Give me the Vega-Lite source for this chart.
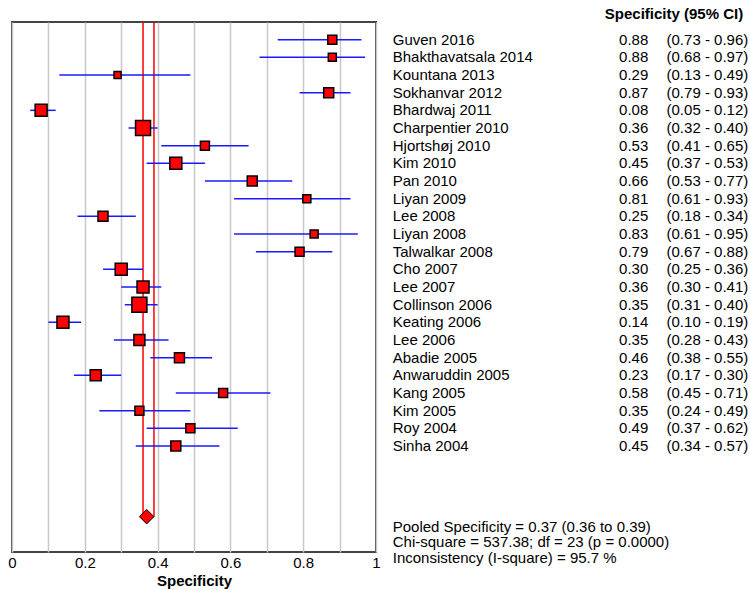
{
  "$schema": "https://vega.github.io/schema/vega-lite/v6.json",
  "padding": {"left": 6, "top": 7, "right": 0, "bottom": 0},
  "bounds": "flush",
  "spacing": 0,
  "config": {
    "font": "Liberation Sans",
    "view": {"stroke": null},
    "axisX": {
      "grid": true, "gridColor": "#c8c8c8", "gridWidth": 1.5,
      "ticks": false, "domain": false, "labelOverlap": false,
      "labelFontSize": 15, "labelColor": "black", "labelPadding": 3, "labelFlush": false,
      "titleFontSize": 15, "titleFontWeight": "bold", "titleColor": "black", "titlePadding": 3
    }
  },
  "datasets": {
    "studies": [
      {"study": "Guven 2016", "row": 0, "spec": 0.88, "lo": 0.73, "hi": 0.96, "weight": 3.07},
      {"study": "Bhakthavatsala 2014", "row": 1, "spec": 0.88, "lo": 0.68, "hi": 0.97, "weight": 2.43},
      {"study": "Kountana 2013", "row": 2, "spec": 0.29, "lo": 0.13, "hi": 0.49, "weight": 1.86},
      {"study": "Sokhanvar 2012", "row": 3, "spec": 0.87, "lo": 0.79, "hi": 0.93, "weight": 3.79},
      {"study": "Bhardwaj 2011", "row": 4, "spec": 0.08, "lo": 0.05, "hi": 0.12, "weight": 5.46},
      {"study": "Charpentier 2010", "row": 5, "spec": 0.36, "lo": 0.32, "hi": 0.40, "weight": 8.53},
      {"study": "Hjortshøj 2010", "row": 6, "spec": 0.53, "lo": 0.41, "hi": 0.65, "weight": 3.07},
      {"study": "Kim 2010", "row": 7, "spec": 0.45, "lo": 0.37, "hi": 0.53, "weight": 5.46},
      {"study": "Pan 2010", "row": 8, "spec": 0.66, "lo": 0.53, "hi": 0.77, "weight": 3.79},
      {"study": "Liyan 2009", "row": 9, "spec": 0.81, "lo": 0.61, "hi": 0.93, "weight": 2.43},
      {"study": "Lee 2008", "row": 10, "spec": 0.25, "lo": 0.18, "hi": 0.34, "weight": 3.79},
      {"study": "Liyan 2008", "row": 11, "spec": 0.83, "lo": 0.61, "hi": 0.95, "weight": 2.43},
      {"study": "Talwalkar 2008", "row": 12, "spec": 0.79, "lo": 0.67, "hi": 0.88, "weight": 3.07},
      {"study": "Cho 2007", "row": 13, "spec": 0.30, "lo": 0.25, "hi": 0.36, "weight": 5.46},
      {"study": "Lee 2007", "row": 14, "spec": 0.36, "lo": 0.30, "hi": 0.41, "weight": 5.46},
      {"study": "Collinson 2006", "row": 15, "spec": 0.35, "lo": 0.31, "hi": 0.40, "weight": 8.53},
      {"study": "Keating 2006", "row": 16, "spec": 0.14, "lo": 0.10, "hi": 0.19, "weight": 5.46},
      {"study": "Lee 2006", "row": 17, "spec": 0.35, "lo": 0.28, "hi": 0.43, "weight": 4.59},
      {"study": "Abadie 2005", "row": 18, "spec": 0.46, "lo": 0.38, "hi": 0.55, "weight": 3.79},
      {"study": "Anwaruddin 2005", "row": 19, "spec": 0.23, "lo": 0.17, "hi": 0.30, "weight": 4.59},
      {"study": "Kang 2005", "row": 20, "spec": 0.58, "lo": 0.45, "hi": 0.71, "weight": 3.07},
      {"study": "Kim 2005", "row": 21, "spec": 0.35, "lo": 0.24, "hi": 0.49, "weight": 3.07},
      {"study": "Roy 2004", "row": 22, "spec": 0.49, "lo": 0.37, "hi": 0.62, "weight": 3.07},
      {"study": "Sinha 2004", "row": 23, "spec": 0.45, "lo": 0.34, "hi": 0.57, "weight": 3.79}
    ],
    "pooled": [{"label": "Pooled", "row": 27, "toprow": -1, "spec": 0.37, "lo": 0.36, "hi": 0.39}]
  },
  "hconcat": [
    {
      "width": 364,
      "height": 530,
      "view": {"stroke": "#444444", "strokeWidth": 2},
      "layer": [
        {
          "data": {"name": "pooled"},
          "mark": {"type": "rule", "color": "#ff0000", "strokeWidth": 1.5},
          "encoding": {
            "x": {
              "field": "lo", "type": "quantitative", "title": "Specificity",
              "scale": {"domain": [0, 1], "nice": false, "zero": false},
              "axis": {"values": [0, 0.1, 0.2, 0.3, 0.4, 0.5, 0.6, 0.7, 0.8, 0.9, 1], "format": "~g", "labelExpr": "round(datum.value*10) % 2 == 0 ? datum.label : ''"}
            },
            "y": {"field": "toprow", "type": "quantitative", "scale": {"domain": [-1, 29], "reverse": true, "nice": false, "zero": false}, "axis": null},
            "y2": {"field": "row"}
          }
        },
        {
          "data": {"name": "pooled"},
          "mark": {"type": "rule", "color": "#ff0000", "strokeWidth": 1.5},
          "encoding": {
            "x": {"field": "hi", "type": "quantitative", "title": "Specificity",
              "axis": {"values": [0, 0.1, 0.2, 0.3, 0.4, 0.5, 0.6, 0.7, 0.8, 0.9, 1], "format": "~g", "labelExpr": "round(datum.value*10) % 2 == 0 ? datum.label : ''"}},
            "y": {"field": "toprow", "type": "quantitative"},
            "y2": {"field": "row"}
          }
        },
        {
          "data": {"name": "studies"},
          "mark": {"type": "rule", "color": "#1a1aff", "strokeWidth": 1.5},
          "encoding": {
            "x": {"field": "lo", "type": "quantitative", "title": "Specificity",
              "axis": {"values": [0, 0.1, 0.2, 0.3, 0.4, 0.5, 0.6, 0.7, 0.8, 0.9, 1], "format": "~g", "labelExpr": "round(datum.value*10) % 2 == 0 ? datum.label : ''"}},
            "x2": {"field": "hi"},
            "y": {"field": "row", "type": "quantitative"}
          }
        },
        {
          "data": {"name": "studies"},
          "mark": {"type": "point", "shape": "square", "filled": true, "fill": "#ff0000", "stroke": "black", "strokeWidth": 1.5, "opacity": 1},
          "encoding": {
            "x": {"field": "spec", "type": "quantitative", "title": "Specificity",
              "axis": {"values": [0, 0.1, 0.2, 0.3, 0.4, 0.5, 0.6, 0.7, 0.8, 0.9, 1], "format": "~g", "labelExpr": "round(datum.value*10) % 2 == 0 ? datum.label : ''"}},
            "y": {"field": "row", "type": "quantitative"},
            "size": {"field": "weight", "type": "quantitative", "scale": {"domain": [0, 8.53], "range": [0, 225]}, "legend": null}
          }
        },
        {
          "data": {"name": "pooled"},
          "mark": {"type": "point", "shape": "diamond", "filled": true, "fill": "#ff0000", "stroke": "black", "strokeWidth": 1, "opacity": 1, "size": 210},
          "encoding": {
            "x": {"field": "spec", "type": "quantitative", "title": "Specificity",
              "axis": {"values": [0, 0.1, 0.2, 0.3, 0.4, 0.5, 0.6, 0.7, 0.8, 0.9, 1], "format": "~g", "labelExpr": "round(datum.value*10) % 2 == 0 ? datum.label : ''"}},
            "y": {"field": "row", "type": "quantitative"}
          }
        }
      ]
    },
    {
      "width": 372,
      "height": 530,
      "view": {"stroke": null},
      "layer": [
        {
          "data": {"name": "studies"},
          "mark": {"type": "text", "align": "left", "baseline": "middle", "fontSize": 15, "color": "black"},
          "encoding": {
            "x": {"datum": 4.5, "type": "quantitative", "scale": {"domain": [0, 100], "nice": false, "zero": false}, "axis": null},
            "y": {"field": "row", "type": "quantitative", "scale": {"domain": [-1, 29], "reverse": true, "nice": false, "zero": false}, "axis": null},
            "text": {"field": "study"}
          }
        },
        {
          "data": {"name": "studies"},
          "mark": {"type": "text", "align": "right", "baseline": "middle", "fontSize": 15, "color": "black"},
          "encoding": {
            "x": {"datum": 73.2, "type": "quantitative", "axis": null},
            "y": {"field": "row", "type": "quantitative", "axis": null},
            "text": {"field": "spec", "type": "quantitative", "format": ".2f"}
          }
        },
        {
          "data": {"name": "studies"},
          "transform": [{"calculate": "'(' + format(datum.lo, '.2f') + ' - ' + format(datum.hi, '.2f') + ')'", "as": "ci"}],
          "mark": {"type": "text", "align": "left", "baseline": "middle", "fontSize": 15, "color": "black"},
          "encoding": {
            "x": {"datum": 78.1, "type": "quantitative", "axis": null},
            "y": {"field": "row", "type": "quantitative", "axis": null},
            "text": {"field": "ci"}
          }
        },
        {
          "data": {"values": [{"t": "Specificity (95% CI)"}]},
          "mark": {"type": "text", "align": "right", "baseline": "middle", "fontSize": 15, "fontWeight": "bold", "color": "black"},
          "encoding": {
            "x": {"datum": 98.7, "type": "quantitative", "axis": null},
            "y": {"datum": -1.44, "type": "quantitative", "axis": null},
            "text": {"field": "t"}
          }
        },
        {
          "data": {"values": [{"t": "Pooled Specificity = 0.37 (0.36 to 0.39)\nChi-square = 537.38; df =  23 (p = 0.0000)\nInconsistency (I-square) = 95.7 %"}]},
          "mark": {"type": "text", "align": "left", "baseline": "middle", "fontSize": 15, "color": "black", "lineBreak": "\n", "lineHeight": 15.4},
          "encoding": {
            "x": {"datum": 4.5, "type": "quantitative", "axis": null},
            "y": {"datum": 27.57, "type": "quantitative", "axis": null},
            "text": {"field": "t"}
          }
        }
      ]
    }
  ]
}
